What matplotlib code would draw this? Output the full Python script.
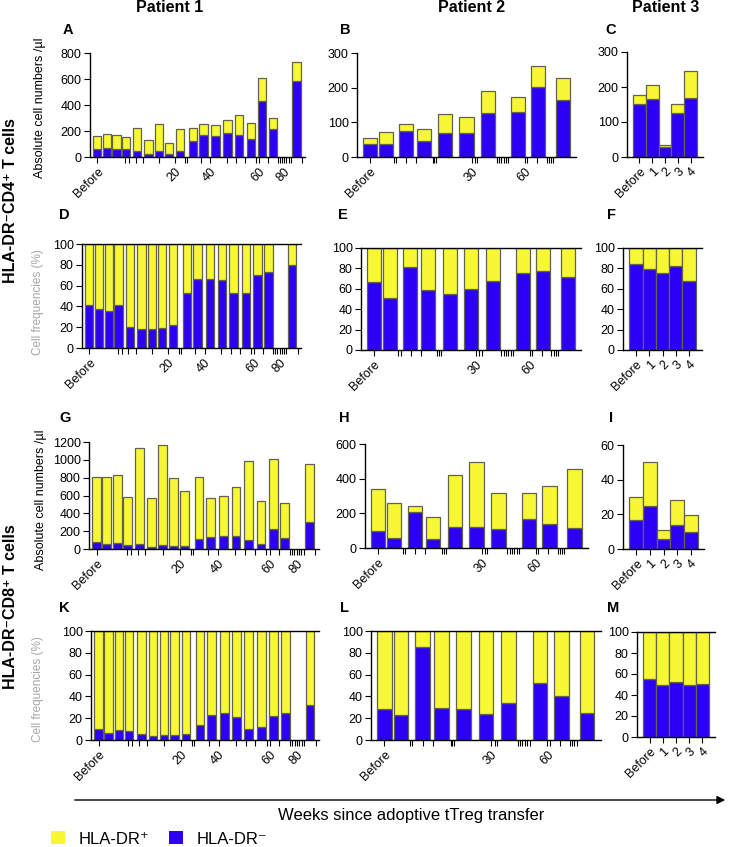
import numpy as np
import matplotlib
matplotlib.use("Agg")
import matplotlib.pyplot as plt
from matplotlib.patches import Patch, FancyArrowPatch

plt.rcParams["font.family"] = ["Liberation Sans", "DejaVu Sans"]

YELLOW = "#f7f733"
BLUE = "#2b00f5"
EDGE = "#62624e"

# x slots of the visits (one slot ~ one bar)
p1_pos = [0, 0.87, 1.76, 2.6, 3.65, 4.67, 5.6, 6.5, 7.5, 8.7, 9.67, 10.77, 11.85, 12.88, 13.97, 15.0, 16.0, 18.12]
p2_pos = [0, 0.76, 1.72, 2.57, 3.6, 4.6, 5.63, 7.04, 8.0, 9.17]
p3_pos = [0, 1, 2, 3, 4]

# week ticks
p1_minor = [0, 2.55, 2.9, 3.5, 4.15, 5.6, 7.05, 8.0, 8.15, 9.45, 10.3, 11.8, 12.65, 13.45, 14.4,
            14.7, 15.5, 16.4, 16.6, 16.8, 17.0, 17.2, 17.4, 17.6, 18.6]
p1_major = [0, 7.05, 10.3, 14.7, 17.0]
p1_labels = ["Before", "20", "40", "60", "80"]
p2_minor = [0, 1.16, 1.27, 1.75, 2.22, 3.0, 3.08, 3.17, 4.84, 5.0, 5.1, 6.03, 6.14, 6.25, 6.36,
            6.47, 6.59, 7.38, 7.48, 7.95, 8.4, 8.5, 8.6, 8.7]
p2_major = [0, 4.84, 7.38]
p2_labels = ["Before", "30", "60"]
p3_labels = ["Before", "1", "2", "3", "4"]

# CD4 T cells
cd4_abs_p1_total = [160, 180, 168, 150, 220, 134, 250, 111, 214, 225, 250, 248, 281, 320, 258, 609, 297, 730]
cd4_abs_p1_neg = [65, 70, 60, 60, 44, 26, 44, 21, 46, 121, 168, 165, 186, 170, 137, 434, 217, 586]
cd4_pct_p1_neg = [41.7, 37.5, 35.2, 41.7, 20.5, 18.6, 18.3, 19.2, 22.2, 53, 66.7, 66.7, 65.7, 53, 52.6, 70.5, 73, 80]

cd4_abs_p2_total = [55, 73, 94, 80, 123, 114, 191, 172, 262, 227]
cd4_abs_p2_neg = [38, 37, 76, 46, 68, 68, 128, 130, 203, 165]
cd4_pct_p2_neg = [66.6, 51, 81, 58.4, 54.8, 59.7, 67.5, 75.4, 77.7, 71.5]

cd4_abs_p3_total = [178, 207, 35, 150, 246]
cd4_abs_p3_neg = [150, 166, 29, 125, 168]
cd4_pct_p3_neg = [84.4, 79.8, 75.9, 82.7, 67.4]

# CD8 T cells
cd8_abs_p1_total = [810, 810, 832, 580, 1133, 576, 1163, 795, 650, 810, 576, 598, 698, 992, 535, 1007, 513, 953]
cd8_abs_p1_neg = [78, 52, 71, 48, 56, 19, 45, 33, 33, 108, 134, 149, 145, 97, 59, 223, 123, 300]
cd8_pct_p1_neg = [9.8, 6.4, 9.2, 8.6, 5.2, 3.7, 4.3, 4.6, 5.8, 13.5, 23.2, 24.8, 21.1, 10.1, 11.9, 22.3, 24.5, 32]

cd8_abs_p2_total = [339, 259, 240, 178, 420, 499, 319, 319, 356, 455]
cd8_abs_p2_neg = [97, 60, 209, 52, 120, 120, 108, 166, 141, 118]
cd8_pct_p2_neg = [28.1, 22.6, 85, 29.4, 28.1, 23.9, 33.6, 52, 40, 25]

cd8_abs_p3_total = [30.1, 50.4, 11.1, 28, 19.4]
cd8_abs_p3_neg = [16.7, 24.7, 5.75, 14, 9.8]
cd8_pct_p3_neg = [55.2, 49.2, 52.7, 49.8, 50.5]

W, H = 729, 847
fig = plt.figure(figsize=(W / 100, H / 100), dpi=100)


def add_axes(l, t, r, b):
    return fig.add_axes([l / W, 1 - b / H, (r - l) / W, (b - t) / H])


def style_axis(ax, patient, pct):
    for s in ["left", "bottom", "top"]:
        ax.spines[s].set_linewidth(1.0)
    ax.spines["right"].set_visible(False)
    ax.spines["top"].set_visible(pct)
    ax.tick_params(axis="both", which="both", length=4, width=0.8, labelsize=9, pad=2)
    if patient == 1:
        ax.set_xlim(-0.65, 18.9)
        ax.set_xticks(p1_major)
        ax.set_xticklabels(p1_labels)
        ax.set_xticks(p1_minor, minor=True)
    elif patient == 2:
        ax.set_xlim(-0.6, 9.8)
        ax.set_xticks(p2_major)
        ax.set_xticklabels(p2_labels)
        ax.set_xticks(p2_minor, minor=True)
    else:
        ax.set_xlim(-0.97, 4.97)
        ax.set_xticks(p3_pos)
        ax.set_xticklabels(p3_labels)
    for lab in ax.get_xticklabels():
        lab.set_rotation(45)
        lab.set_ha("right")
        lab.set_va("top")
        lab.set_rotation_mode("anchor")


def abs_panel(box, patient, pos, total, neg, width, ymax, ystep):
    ax = add_axes(*box)
    neg = np.array(neg)
    total = np.array(total)
    ax.bar(pos, neg, width, color=BLUE, edgecolor=EDGE, linewidth=0.9)
    ax.bar(pos, total - neg, width, bottom=neg, color=YELLOW, edgecolor=EDGE, linewidth=0.9)
    ax.set_ylim(0, ymax)
    ax.set_yticks(np.arange(0, ymax + 1, ystep))
    style_axis(ax, patient, False)
    return ax


def pct_panel(box, patient, pos, neg, width):
    ax = add_axes(*box)
    neg = np.array(neg)
    ax.bar(pos, neg, width, color=BLUE, edgecolor=EDGE, linewidth=0.9)
    ax.bar(pos, 100 - neg, width, bottom=neg, color=YELLOW, edgecolor=EDGE, linewidth=0.9)
    ax.set_ylim(0, 100)
    ax.set_yticks(np.arange(0, 101, 20))
    style_axis(ax, patient, True)
    return ax


# CD4 rows
abs_panel((90, 53, 305, 157), 1, p1_pos, cd4_abs_p1_total, cd4_abs_p1_neg, 0.75, 800, 200)
abs_panel((357, 53, 576, 157), 2, p2_pos, cd4_abs_p2_total, cd4_abs_p2_neg, 0.67, 300, 100)
abs_panel((627, 52, 703, 157), 3, p3_pos, cd4_abs_p3_total, cd4_abs_p3_neg, 1.0, 300, 100)
pct_panel((82, 244, 301, 348), 1, p1_pos, cd4_pct_p1_neg, 0.75)
pct_panel((361, 248, 581, 350), 2, p2_pos, cd4_pct_p2_neg, 0.67)
pct_panel((623, 248, 702, 350), 3, p3_pos, cd4_pct_p3_neg, 1.0)

# CD8 rows
abs_panel((89, 442, 319, 549), 1, p1_pos, cd8_abs_p1_total, cd8_abs_p1_neg, 0.75, 1200, 200)
abs_panel((365, 444, 588, 548), 2, p2_pos, cd8_abs_p2_total, cd8_abs_p2_neg, 0.67, 600, 200)
abs_panel((623, 445, 704, 549), 3, p3_pos, cd8_abs_p3_total, cd8_abs_p3_neg, 1.0, 60, 20)
pct_panel((91, 631, 319, 740), 1, p1_pos, cd8_pct_p1_neg, 0.75)
pct_panel((371, 631, 601, 740), 2, p2_pos, cd8_pct_p2_neg, 0.67)
pct_panel((637, 632, 715, 737), 3, p3_pos, cd8_pct_p3_neg, 1.0)


def ftext(x, y, s, **kw):
    return fig.text(x / W, 1 - y / H, s, **kw)


# titles, letters, labels
for x, name in [(170, "Patient 1"), (472, "Patient 2"), (666, "Patient 3")]:
    ftext(x, 8, name, ha="center", va="center", fontsize=11.5, fontweight="bold")

for x, y, letter in [(63, 30, "A"), (340, 30, "B"), (605, 30, "C"),
                     (59, 215, "D"), (338, 215, "E"), (607, 215, "F"),
                     (59, 418, "G"), (339, 418, "H"), (609, 418, "I"),
                     (59, 608, "K"), (340, 608, "L"), (607, 608, "M")]:
    ftext(x, y, letter, ha="left", va="center", fontsize=10.5, fontweight="bold")

ftext(11, 201, "HLA-DR⁻CD4⁺ T cells", rotation=90, ha="center", va="center",
      fontsize=11.5, fontweight="bold")
ftext(11, 607, "HLA-DR⁻CD8⁺ T cells", rotation=90, ha="center", va="center",
      fontsize=11.5, fontweight="bold")

ftext(40, 108, "Absolute cell numbers /µl", rotation=90, ha="center", va="center", fontsize=9)
ftext(41, 500, "Absolute cell numbers /µl", rotation=90, ha="center", va="center", fontsize=9)
ftext(38, 302, "Cell frequencies (%)", rotation=90, ha="center", va="center", fontsize=8.5, color="#a6a6a6")
ftext(38, 689, "Cell frequencies (%)", rotation=90, ha="center", va="center", fontsize=8.5, color="#a6a6a6")

# time arrow
fig.add_artist(FancyArrowPatch((72 / W, 1 - 800 / H), (728 / W, 1 - 800 / H),
                               transform=fig.transFigure, arrowstyle="-|>",
                               mutation_scale=12, linewidth=1.0, color="black"))
ftext(411, 815, "Weeks since adoptive tTreg transfer", ha="center", va="center", fontsize=12)

handles = [Patch(facecolor=YELLOW, edgecolor="none"), Patch(facecolor=BLUE, edgecolor="none")]
fig.legend(handles, ["HLA-DR⁺", "HLA-DR⁻"], loc="center left",
           bbox_to_anchor=(51 / W, 1 - 839 / H), ncol=2, frameon=False,
           handlelength=0.85, handleheight=0.8, handletextpad=0.8, columnspacing=1.2,
           fontsize=12, borderpad=0, borderaxespad=0)

fig.savefig("out.png", dpi=100)
